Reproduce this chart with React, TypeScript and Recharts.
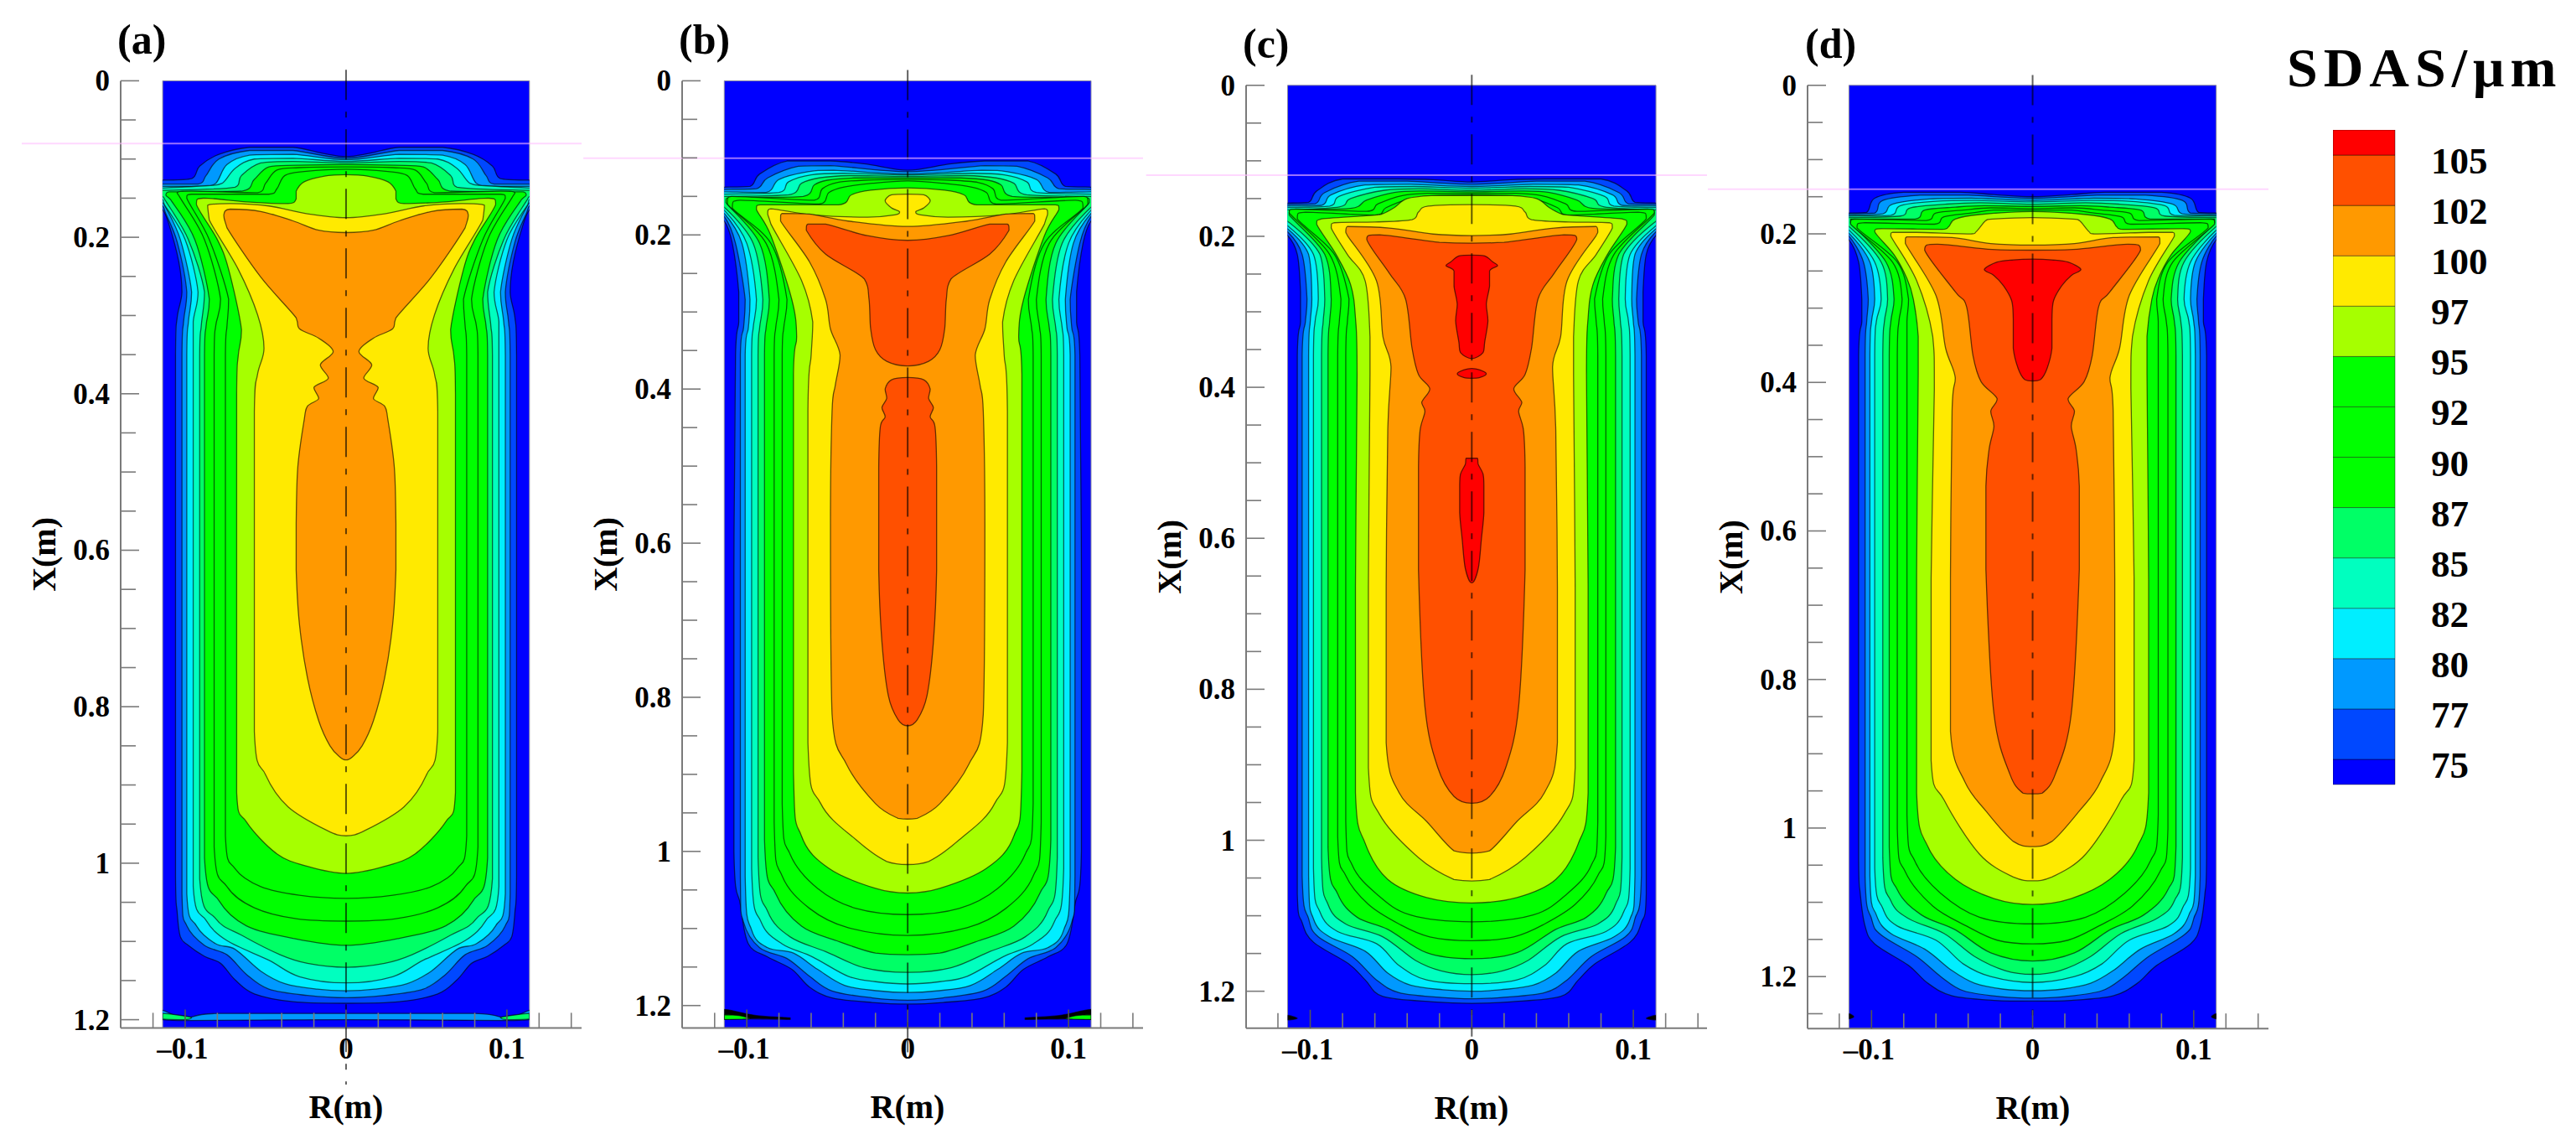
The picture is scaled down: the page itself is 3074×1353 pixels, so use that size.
import React from 'react';
import {
  ScatterChart, Scatter, XAxis, YAxis, ReferenceArea, ReferenceLine, BarChart, Bar,
} from 'recharts';

// contours are half outlines [R mm, X mm], from the axis outwards and back to the axis
const a75 = [[0,97],[14,93],[33,85],[60,85],[79,94],[91,109],[96,125],[114,127],[114,165],[110,184],[104,231],[102,270],[105,303],[106,351],[106,1016],[105,1062],[103,1094],[98,1105],[88,1119],[78,1128],[69,1149],[57,1167],[33,1177],[0,1179]];
const a77 = [[0,99],[33,89],[60,89],[79,100],[87,121],[92,132],[114,132],[114,160],[112,170],[105,206],[99,270],[101,308],[102,351],[102,1039],[99,1080],[88,1105],[74,1117],[62,1142],[48,1161],[24,1169],[0,1172]];
const a80 = [[0,101],[33,94],[60,95],[74,107],[81,131],[90,135],[114,135],[114,156],[112,162],[103,203],[96,270],[98,308],[99,351],[99,1039],[93,1080],[81,1103],[69,1110],[53,1138],[38,1154],[18,1161],[0,1163]];
const a82 = [[0,103],[33,99],[57,100],[69,112],[77,131],[86,134],[114,137],[114,152],[113,158],[100,203],[92,270],[95,308],[95,351],[95,1030],[87,1073],[74,1099],[48,1124],[29,1145],[0,1153]];
const a85 = [[0,105],[33,103],[53,105],[65,121],[69,136],[114,140],[114,148],[112,154],[98,203],[88,270],[90,313],[91,351],[91,1020],[81,1071],[65,1092],[41,1117],[24,1128],[0,1133]];
const a87 = [[0,107],[31,108],[48,110],[57,126],[65,141],[110,142],[112,146],[109,152],[94,203],[85,279],[87,313],[88,351],[88,993],[79,1048],[62,1080],[33,1096],[0,1105]];
const a90 = [[0,110],[29,111],[43,114],[50,131],[55,143],[96,141],[105,143],[103,150],[88,203],[78,279],[81,313],[82,351],[82,979],[74,1030],[57,1057],[31,1071],[0,1074]];
const a92 = [[0,113],[26,116],[38,121],[43,138],[48,145],[96,145],[99,150],[85,203],[73,279],[74,313],[75,351],[75,965],[69,1007],[53,1030],[29,1041],[0,1045]];
const a95 = [[0,120],[14,122],[26,129],[31,141],[31,151],[36,157],[60,155],[88,150],[93,158],[80,203],[73,241],[65,318],[67,351],[68,400],[68,910],[62,947],[43,988],[24,1004],[0,1013]];
const a97 = [[0,175],[24,170],[48,160],[72,157],[86,159],[85,178],[67,241],[55,299],[51,342],[55,375],[57,423],[57,832],[50,887],[36,928],[12,958],[0,965]];
const a100 = [[0,194],[17,191],[33,179],[53,167],[72,164],[76,172],[74,188],[53,251],[31,303],[29,317],[17,329],[8,346],[16,363],[11,380],[20,392],[17,406],[24,416],[26,433],[30,494],[31,566],[31,625],[29,694],[24,763],[17,818],[10,850],[4,864],[0,868]];

const b75 = [[0,116],[26,108],[48,104],[75,104],[92,121],[98,137],[114,138],[114,182],[109,211],[105,274],[105,313],[107,356],[108,635],[108,1000],[104,1069],[99,1120],[87,1137],[72,1153],[61,1176],[47,1190],[22,1196],[0,1198]];
const b77 = [[0,118],[48,110],[68,111],[87,126],[94,140],[114,141],[114,176],[107,211],[101,284],[102,320],[104,356],[104,1032],[102,1092],[92,1125],[75,1139],[61,1162],[47,1181],[22,1190],[0,1193]];
const b80 = [[0,121],[46,116],[62,118],[80,128],[88,145],[114,144],[114,172],[103,211],[98,284],[99,320],[101,356],[101,1032],[97,1102],[87,1125],[71,1132],[56,1153],[39,1174],[18,1181],[0,1183]];
const b82 = [[0,122],[40,120],[60,122],[74,131],[80,145],[114,147],[114,168],[100,211],[94,284],[96,320],[97,356],[97,1022],[91,1092],[78,1120],[59,1137],[37,1162],[20,1169],[0,1172]];
const b85 = [[0,124],[36,123],[55,126],[66,133],[74,148],[114,150],[114,164],[96,211],[90,284],[92,320],[93,356],[93,1008],[87,1078],[73,1111],[51,1130],[27,1151],[0,1157]];
const b87 = [[0,126],[33,126],[50,129],[58,135],[65,150],[112,152],[113,158],[92,211],[86,284],[88,320],[89,356],[89,985],[82,1055],[66,1097],[44,1116],[20,1132],[0,1134]];
const b90 = [[0,128],[27,129],[44,132],[53,140],[58,155],[109,150],[112,160],[88,211],[80,284],[82,320],[83,356],[83,962],[78,1032],[61,1074],[37,1099],[0,1109]];
const b92 = [[0,130],[22,133],[40,138],[49,145],[55,160],[104,155],[109,165],[85,211],[75,284],[77,320],[78,356],[78,938],[73,1004],[56,1048],[32,1074],[0,1082]];
const b95 = [[0,139],[23,142],[35,148],[43,161],[92,161],[94,167],[85,201],[72,284],[69,332],[71,381],[71,896],[66,980],[49,1022],[20,1048],[0,1054]];
const b97 = [[0,147],[10,148],[14,156],[10,165],[5,170],[8,174],[25,177],[59,174],[85,166],[87,172],[85,186],[66,259],[59,313],[60,356],[62,429],[62,859],[54,938],[32,985],[13,1013],[0,1017]];
const b100 = [[0,189],[37,182],[61,173],[78,172],[79,182],[61,235],[51,284],[48,322],[42,356],[45,395],[47,429],[48,575],[47,822],[38,887],[20,938],[6,957],[0,958]];
const b102top = [[0,207],[25,201],[51,186],[62,186],[63,194],[51,225],[27,257],[24,284],[23,322],[20,349],[13,364],[0,370]];
const b102low = [[0,385],[10,388],[14,400],[13,412],[16,424],[14,436],[17,449],[18,502],[18,635],[16,728],[12,798],[6,829],[0,837]];

const c75 = [[0,128],[24,125],[45,124],[80,124],[96,140],[101,155],[114,156],[114,199],[108,224],[106,274],[106,313],[108,358],[108,1071],[105,1109],[98,1135],[76,1164],[66,1185],[55,1207],[24,1214],[0,1216]];
const c77 = [[0,131],[40,127],[70,127],[91,142],[97,157],[114,158],[114,194],[105,224],[102,283],[103,313],[105,358],[105,1047],[101,1104],[95,1128],[74,1154],[59,1185],[45,1202],[20,1208],[0,1210]];
const c80 = [[0,134],[38,131],[66,132],[87,145],[93,159],[114,160],[114,190],[101,224],[99,283],[100,313],[101,358],[101,1047],[98,1104],[88,1128],[66,1147],[52,1176],[38,1192],[18,1198],[0,1200]];
const c82 = [[0,136],[36,134],[60,135],[82,147],[88,160],[114,162],[114,186],[98,224],[95,283],[97,313],[98,358],[98,1037],[94,1095],[83,1121],[59,1137],[45,1166],[28,1185],[0,1190]];
const c85 = [[0,139],[33,137],[54,139],[75,150],[82,161],[114,165],[114,180],[94,224],[91,283],[92,313],[93,358],[93,1023],[89,1085],[78,1111],[55,1128],[35,1159],[19,1173],[0,1178]];
const c87 = [[0,141],[30,140],[48,142],[65,152],[75,163],[112,165],[113,172],[91,224],[87,283],[88,313],[89,358],[89,1009],[83,1071],[71,1102],[52,1118],[28,1149],[0,1157]];
const c90 = [[0,143],[26,143],[43,146],[58,157],[65,167],[109,164],[113,169],[88,224],[81,283],[82,313],[83,358],[83,995],[78,1047],[64,1085],[45,1111],[26,1128],[0,1133]];
const c92 = [[0,145],[24,146],[38,150],[53,162],[60,172],[103,168],[108,177],[85,224],[76,283],[77,313],[78,358],[78,975],[74,1033],[59,1071],[38,1099],[0,1108]];
const c95 = [[0,146],[25,146],[40,150],[48,162],[55,170],[60,172],[93,177],[96,184],[84,224],[75,264],[72,308],[71,383],[72,664],[72,937],[66,1004],[52,1052],[28,1076],[0,1083]];
const c97 = [[0,158],[27,160],[33,168],[37,178],[60,181],[85,182],[87,189],[77,224],[66,259],[63,333],[63,383],[64,664],[64,904],[57,966],[33,1023],[11,1052],[0,1054]];
const c100 = [[0,199],[24,197],[51,189],[77,187],[78,194],[77,199],[59,259],[55,333],[50,373],[52,457],[53,664],[53,871],[45,937],[28,975],[11,1014],[0,1017]];
const c102 = [[0,209],[20,208],[57,198],[65,204],[51,249],[41,283],[37,348],[33,383],[26,402],[31,420],[29,432],[32,457],[33,506],[33,642],[29,823],[21,904],[11,942],[0,951]];
const c105top = [[0,225],[8,226],[13,234],[16,239],[11,246],[11,266],[9,290],[10,312],[8,340],[7,354],[0,362]];
const c105mid = [[0,375],[5,377],[9,382],[5,387],[0,388]];
const c105low = [[0,494],[3.5,494],[4,502],[7,515],[7.5,530],[7.5,566],[6,600],[4,640],[0,659]];

const d75 = [[0,150],[24,147],[45,144],[80,144],[98,152],[103,171],[114,172],[114,208],[108,238],[106,288],[106,318],[108,364],[108,1040],[107,1088],[104,1132],[98,1156],[77,1185],[65,1209],[50,1226],[24,1232],[0,1233]];
const d77 = [[0,152],[40,148],[70,148],[93,155],[98,172],[114,173],[114,203],[105,238],[102,288],[103,318],[104,364],[104,1064],[100,1122],[94,1144],[72,1173],[57,1200],[43,1219],[20,1227],[0,1229]];
const d80 = [[0,155],[38,152],[64,153],[87,160],[93,173],[114,175],[114,199],[101,238],[98,288],[100,318],[101,364],[101,1064],[97,1117],[88,1142],[67,1163],[50,1192],[36,1209],[18,1217],[0,1219]];
const d82 = [[0,157],[36,155],[60,156],[82,162],[88,175],[114,176],[114,195],[98,238],[94,288],[97,318],[98,364],[98,1054],[93,1108],[84,1132],[60,1151],[43,1183],[26,1200],[0,1208]];
const d85 = [[0,160],[33,158],[54,160],[76,165],[82,176],[114,178],[114,190],[94,238],[90,288],[92,318],[93,364],[93,1040],[88,1098],[77,1122],[55,1142],[36,1173],[17,1192],[0,1197]];
const d87 = [[0,163],[30,162],[48,164],[67,168],[73,180],[113,180],[113,185],[91,238],[86,288],[88,318],[89,364],[89,1025],[84,1083],[69,1117],[48,1137],[26,1168],[0,1179]];
const d90 = [[0,166],[26,165],[43,168],[60,172],[66,182],[110,180],[113,187],[87,238],[81,288],[83,318],[84,364],[84,1001],[79,1059],[62,1105],[41,1132],[22,1151],[0,1156]];
const d92 = [[0,168],[24,168],[38,172],[55,177],[61,187],[104,185],[109,192],[84,238],[77,288],[78,318],[78,364],[78,982],[73,1045],[57,1088],[33,1120],[0,1129]];
const d95 = [[0,170],[33,174],[48,180],[52,190],[56,194],[92,193],[98,197],[86,228],[78,260],[74,288],[71,338],[71,389],[72,664],[72,953],[65,1025],[48,1069],[24,1095],[0,1103]];
const d97 = [[0,178],[25,180],[29,182],[35,197],[38,200],[72,198],[87,198],[88,203],[72,263],[62,338],[61,409],[63,664],[63,909],[55,962],[33,1035],[12,1066],[0,1071]];
const d100 = [[0,215],[26,213],[50,205],[78,204],[79,213],[60,283],[54,354],[48,394],[50,439],[51,664],[51,870],[42,938],[29,977],[12,1018],[0,1025]];
const d102 = [[0,222],[25,221],[59,214],[67,222],[48,278],[41,298],[37,364],[32,399],[22,422],[26,439],[24,459],[27,490],[29,540],[29,652],[24,846],[14,928],[6,953],[0,954]];
const d105 = [[0,234],[12,235],[22,238],[30,248],[24,256],[18,270],[13,290],[12,315],[12,354],[9,381],[5,396],[0,398]];

// the stray cells at the foot of each ingot, [R mm, X mm] on the right hand side
const aFootBand = [[0,1192],[80,1192],[100,1198],[114,1188],[114,1200],[100,1201],[0,1200]];
const aFootCorner = [[96,1197],[114,1192],[114,1199],[100,1200]];
const bFootDark = [[73,1216],[94,1213],[114,1205],[114,1218],[104,1217],[73,1218]];
const bFootCorner = [[114,1212],[114,1218],[98,1217],[105,1213]];
const cFootDark = [[114,1232],[114,1238],[108,1236]];
const dFootDark = [[114,1250],[114,1257],[111,1254]];

const levelLabels = ['75', '77', '80', '82', '85', '87', '90', '92', '95', '97', '100', '102', '105'];
const bandColors = ['#0000ff', '#0048ff', '#0099ff', '#00eeff', '#00ffbf', '#00ff66', '#00ff00', '#00ff00', '#00ff00', '#a6ff00', '#ffea00', '#ff9900', '#ff5000', '#ff0000'];
const bandSizes = [0.5, 1, 1, 1, 1, 1, 1, 1, 1, 1, 1, 1, 1, 0.5];
const levelTicks = [0.5, 1.5, 2.5, 3.5, 4.5, 5.5, 6.5, 7.5, 8.5, 9.5, 10.5, 11.5, 12.5];

const xTicks = [0, 0.05, 0.1, 0.15, 0.2, 0.25, 0.3, 0.35, 0.4, 0.45, 0.5, 0.55, 0.6, 0.65, 0.7, 0.75, 0.8, 0.85, 0.9, 0.95, 1, 1.05, 1.1, 1.15, 1.2, 1.25];
const xTickLabels: Record<string, string> = { '0.00': '0', '0.20': '0.2', '0.40': '0.4', '0.60': '0.6', '0.80': '0.8', '1.00': '1', '1.20': '1.2' };
const rTicks = [-0.12, -0.1, -0.08, -0.06, -0.04, -0.02, 0, 0.02, 0.04, 0.06, 0.08, 0.1, 0.12, 0.14];
const rTickLabels: Record<string, string> = { '-0.10': '\u20130.1', '0.00': '0', '0.10': '0.1' };

const panels = [
  { name: '(a)', left: 0, titleX: 140, titleY: 22, top: 96.4, axisBottom: 1226.4, xMax: 1.2105, rMin: -0.1401, rMax: 0.1464, pour: 0.0803, lineEnd: 1.283,
    levels: [a75, a77, a80, a82, a85, a87, a90, a92, a95, a97, a100], foot: [[aFootBand, '#0099ff', 'mid'], [aFootCorner, '#00ff66', 'side']] as any[] },
  { name: '(b)', left: 670, titleX: 810, titleY: 22, top: 96.4, axisBottom: 1226.4, xMax: 1.229, rMin: -0.1402, rMax: 0.1463, pour: 0.1005, lineEnd: 1.27,
    levels: [b75, b77, b80, b82, b85, b87, b90, b92, b95, b97, b100, b102top, b102low], foot: [[bFootDark, '#000000', 'side'], [bFootCorner, '#00ff00', 'side']] },
  { name: '(c)', left: 1343, titleX: 1483, titleY: 27, top: 101.8, axisBottom: 1226.8, xMax: 1.249, rMin: -0.1397, rMax: 0.1456, pour: 0.119, lineEnd: 1.26,
    levels: [c75, c77, c80, c82, c85, c87, c90, c92, c95, c97, c100, c102, c105top, c105mid, c105low], foot: [[cFootDark, '#000000', 'side']] },
  { name: '(d)', left: 2013, titleX: 2154, titleY: 27, top: 101.8, axisBottom: 1227.2, xMax: 1.27, rMin: -0.1397, rMax: 0.1464, pour: 0.14, lineEnd: 1.27,
    levels: [d75, d77, d80, d82, d85, d87, d90, d92, d95, d97, d100, d102, d105], foot: [[dFootDark, '#000000', 'side']] },
];

// index of the filled band for every outline of a panel (the islands share a band)
const panelBands = [
  [1, 2, 3, 4, 5, 6, 7, 8, 9, 10, 11],
  [1, 2, 3, 4, 5, 6, 7, 8, 9, 10, 11, 12, 12],
  [1, 2, 3, 4, 5, 6, 7, 8, 9, 10, 11, 12, 13, 13, 13],
  [1, 2, 3, 4, 5, 6, 7, 8, 9, 10, 11, 12, 13],
];

const SERIF = '"Liberation Serif", "Times New Roman", serif';
const AXIS_GREY = '#7a7a7a';
const AXIS_WIDTH = 144;
const PLOT_WIDTH = 550;
const WALL = 114;

// where an outline runs along the mould wall, push it outside so only the fill shows
const pastWall = (half: number[][]) => {
  const out: number[][] = [];
  half.forEach(([r, x], i) => {
    const next = half[i + 1];
    const prev = half[i - 1];
    out.push([r, x]);
    if (r === WALL && next && next[0] === WALL) out.push([WALL + 5, x]);
    if (r === WALL && prev && prev[0] === WALL) {
      out.pop();
      out.push([WALL + 5, x], [r, x]);
    }
  });
  return out;
};

const toLoop = (half: number[][]) => {
  const full = pastWall(half);
  const right = full.map(([r, x]) => ({ r: r / 1000, x: x / 1000 }));
  const left = full.filter(([r]) => r !== 0).reverse().map(([r, x]) => ({ r: -r / 1000, x: x / 1000 }));
  return [...right, ...left];
};
const toSide = (cells: number[][], sign: number) => cells.map(([r, x]) => ({ r: sign * r / 1000, x: x / 1000 }));

const clamp = (v: number, a: number, b: number) => Math.min(Math.max(a, b), Math.max(Math.min(a, b), v));

// closed smooth outline through the points that the scatter series has already scaled
const smoothPath = (pts: { x: number; y: number }[]) => {
  const n = pts.length;
  let d = `M${pts[0].x},${pts[0].y}`;
  for (let i = 0; i < n; i++) {
    const p0 = pts[(i - 1 + n) % n];
    const p1 = pts[i];
    const p2 = pts[(i + 1) % n];
    const p3 = pts[(i + 2) % n];
    const c1x = clamp(p1.x + (p2.x - p0.x) / 6, p1.x, p2.x);
    const c1y = clamp(p1.y + (p2.y - p0.y) / 6, p1.y, p2.y);
    const c2x = clamp(p2.x - (p3.x - p1.x) / 6, p1.x, p2.x);
    const c2y = clamp(p2.y - (p3.y - p1.y) / 6, p1.y, p2.y);
    d += `C${c1x},${c1y} ${c2x},${c2y} ${p2.x},${p2.y}`;
  }
  return d + 'Z';
};

const outline = (color: string, clipId: string) => (props: any) => (
  <path
    d={smoothPath(props.points)}
    clipPath={`url(#${clipId})`}
    fill={color}
    stroke="#000000"
    strokeOpacity={0.6}
    strokeWidth={1.3}
    strokeLinejoin="round"
  />
);

const noPoint = () => null;

const LeftTick = ({ x, y, payload }: any) => {
  const label = xTickLabels[payload.value.toFixed(2)];
  return (
    <g>
      <line x1={x + 13} x2={x + 13 + (label ? 22 : 18)} y1={y} y2={y} stroke={AXIS_GREY} strokeWidth={1.6} />
      {label && (
        <text x={x} y={y + 12} textAnchor="end" fontFamily={SERIF} fontWeight="bold" fontSize={35} fill="#000">{label}</text>
      )}
    </g>
  );
};

const BottomTick = ({ x, y, payload }: any) => {
  const label = rTickLabels[payload.value.toFixed(2)];
  return (
    <g>
      <line x1={x} x2={x} y1={y - 37} y2={y - 37 - (label ? 22 : 18)} stroke={label ? '#555' : AXIS_GREY} strokeWidth={1.6} />
      {label && (
        <text x={x - (payload.value < 0 ? 3 : 0)} y={y} textAnchor="middle" fontFamily={SERIF} fontWeight="bold" fontSize={35} fill="#000">{label}</text>
      )}
    </g>
  );
};

const LevelTick = ({ x, y, index }: any) => (
  <text x={x} y={y + 22} textAnchor="start" fontFamily={SERIF} fontWeight="bold" fontSize={45} fill="#000">{levelLabels[index]}</text>
);

const Panel = ({ panel, bands, id }: { panel: typeof panels[number]; bands: number[]; id: string }) => {
  const wallX = AXIS_WIDTH + ((-WALL / 1000 - panel.rMin) / (panel.rMax - panel.rMin)) * PLOT_WIDTH;
  const wallWidth = ((2 * WALL / 1000) / (panel.rMax - panel.rMin)) * PLOT_WIDTH;
  return (
    <div style={{ position: 'absolute', left: panel.left, top: 0 }}>
      <ScatterChart
        width={AXIS_WIDTH + PLOT_WIDTH}
        height={1353}
        margin={{ top: panel.top, right: 0, bottom: 1353 - panel.axisBottom - 120, left: 0 }}
        style={{ overflow: 'visible' }}
      >
        <defs>
          <clipPath id={id}>
            <rect x={wallX} y={0} width={wallWidth} height={1353} />
          </clipPath>
        </defs>
        <XAxis
          type="number"
          dataKey="r"
          domain={[panel.rMin, panel.rMax]}
          allowDataOverflow
          ticks={rTicks}
          interval={0}
          height={120}
          tickSize={0}
          tickMargin={37}
          tick={BottomTick}
          axisLine={{ stroke: AXIS_GREY, strokeWidth: 2 }}
          label={{ value: 'R(m)', position: 'insideBottom', offset: 12, dx: -6, fontFamily: SERIF, fontWeight: 'bold', fontSize: 40, fill: '#000' }}
        />
        <YAxis
          type="number"
          dataKey="x"
          reversed
          domain={[0, panel.xMax]}
          allowDataOverflow
          ticks={xTicks.filter((t) => t < panel.xMax)}
          interval={0}
          width={AXIS_WIDTH}
          tickSize={0}
          tickMargin={13}
          tick={LeftTick}
          axisLine={{ stroke: AXIS_GREY, strokeWidth: 2 }}
          label={{ value: 'X(m)', angle: -90, position: 'insideLeft', offset: 52, fontFamily: SERIF, fontWeight: 'bold', fontSize: 40, fill: '#000', style: { textAnchor: 'middle' } }}
        />
        <ReferenceArea x1={-0.114} x2={0.114} y1={0} y2={panel.xMax} fill={bandColors[0]} fillOpacity={1} stroke="#8a8aa0" strokeWidth={1} />
        {panel.levels.map((half, i) => (
          <Scatter
            key={i}
            data={toLoop(half)}
            isAnimationActive={false}
            shape={noPoint}
            line={outline(bandColors[bands[i]], id)}
          />
        ))}
        {panel.foot.map(([cells, color, kind]: any, i: number) => (kind === 'mid'
          ? <Scatter key={`foot${i}`} data={toLoop(cells)} isAnimationActive={false} shape={noPoint} line={outline(color, id)} />
          : [1, -1].map((sign) => (
            <Scatter key={`foot${i}${sign}`} data={toSide(cells, sign)} isAnimationActive={false} shape={noPoint} line={outline(color, id)} />
          ))))}
        <ReferenceLine
          segment={[{ x: 0, y: -0.014 }, { x: 0, y: panel.lineEnd }]}
          ifOverflow="visible"
          stroke="#000000"
          strokeOpacity={0.62}
          strokeWidth={2}
          strokeDasharray="36 14 7 14"
          zIndex={700}
        />
        <ReferenceLine
          segment={[{ x: -0.2016, y: panel.pour }, { x: panel.rMax, y: panel.pour }]}
          ifOverflow="visible"
          stroke="rgb(255,190,255)"
          strokeOpacity={0.6}
          strokeWidth={2}
          zIndex={700}
        />
      </ScatterChart>
    </div>
  );
};

const colorbarRow = [Object.fromEntries(bandSizes.map((v, i) => [`band${i}`, v]))];

const Colorbar = () => (
  <div style={{ position: 'absolute', left: 2784, top: 155 }}>
    <BarChart width={290} height={841} data={colorbarRow} margin={{ top: 0, right: 0, bottom: 60, left: 0 }} barCategoryGap={0}>
      <XAxis hide />
      <YAxis
        orientation="right"
        type="number"
        domain={[0, 13]}
        ticks={levelTicks}
        interval={0}
        width={216}
        tickSize={0}
        tickMargin={43}
        axisLine={false}
        tick={LevelTick}
      />
      {bandColors.map((color, i) => (
        <Bar key={i} dataKey={`band${i}`} stackId="bar" fill={color} stroke="#000000" strokeOpacity={0.4} strokeWidth={1} isAnimationActive={false} />
      ))}
    </BarChart>
  </div>
);

export default function App() {
  return (
    <div style={{ position: 'absolute', left: 0, top: 0, width: 3074, height: 1353, background: '#fff', overflow: 'hidden' }}>
      {panels.map((panel, i) => <Panel key={panel.name} panel={panel} bands={panelBands[i]} id={`wall${i}`} />)}
      {panels.map((panel) => (
        <div
          key={panel.name}
          style={{ position: 'absolute', left: panel.titleX, top: panel.titleY, fontFamily: SERIF, fontWeight: 'bold', fontSize: 50, lineHeight: '50px', color: '#000' }}
        >
          {panel.name}
        </div>
      ))}
      <Colorbar />
      <div style={{ position: 'absolute', left: 2729, top: 48, fontFamily: SERIF, fontWeight: 'bold', fontSize: 66, lineHeight: '66px', letterSpacing: 7, color: '#000', whiteSpace: 'nowrap' }}>
        SDAS/μm
      </div>
    </div>
  );
}
